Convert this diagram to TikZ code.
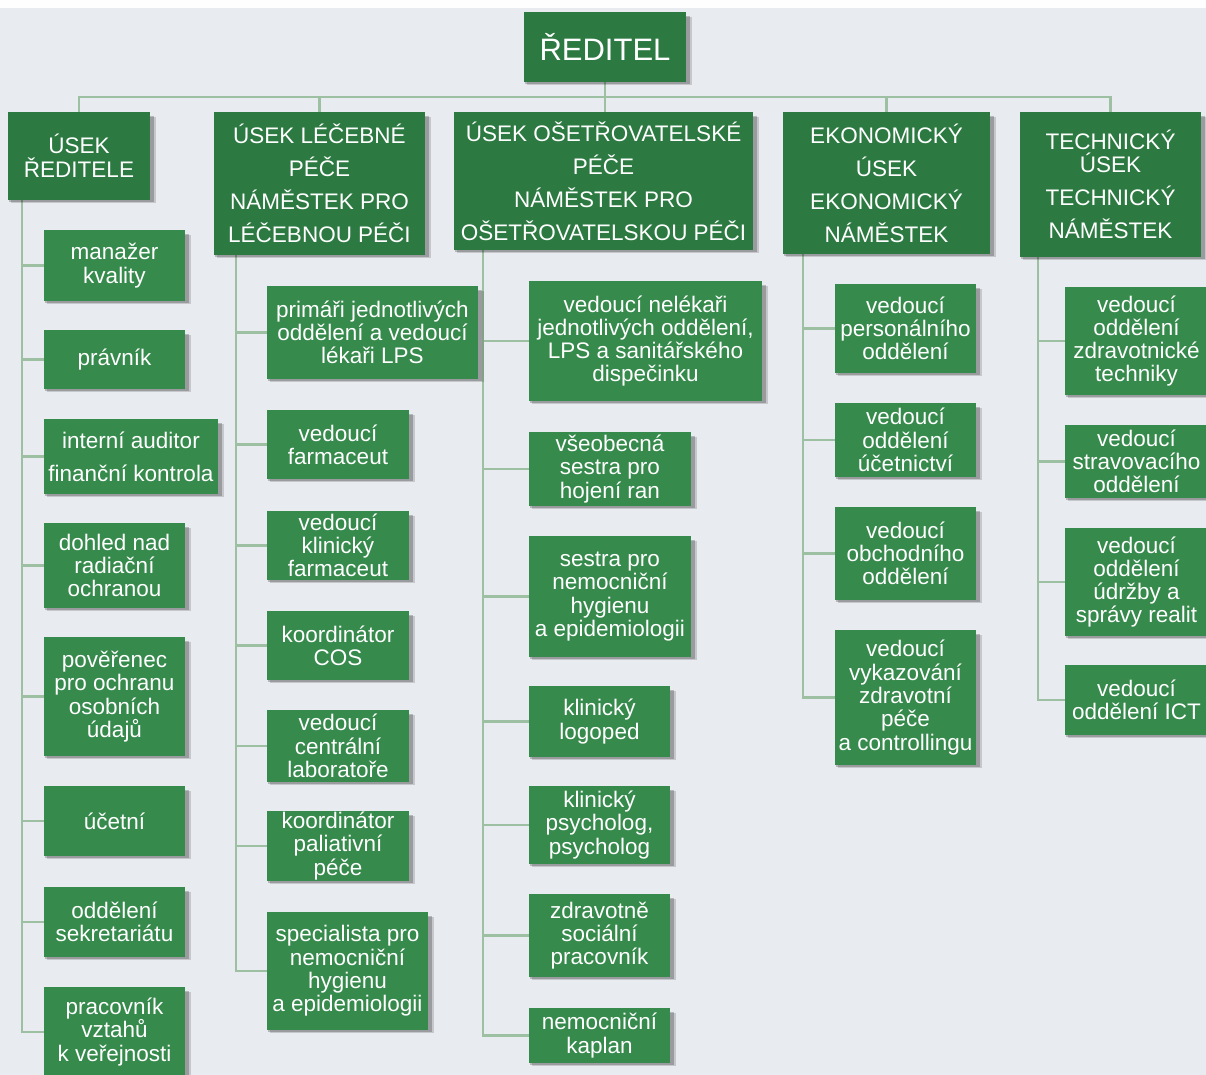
\documentclass[tikz,border=0pt]{standalone}
\usepackage{fontspec}
\setmainfont{Liberation Sans}
\definecolor{bgc}{HTML}{E8EBEF}
\definecolor{hdrgreen}{HTML}{2C7A41}
\definecolor{boxgreen}{HTML}{368A4C}
\definecolor{linec}{HTML}{9DBFA2}
\pgfdeclarelayer{back}
\pgfdeclarelayer{lines}
\pgfdeclarelayer{shade}
\pgfsetlayers{back,lines,shade,main}
\tikzset{
  basebox/.style={inner sep=0pt, align=center, text=white},
  rootbox/.style={basebox, fill=hdrgreen, font=\fontsize{31bp}{34bp}\selectfont},
  hdrbox/.style={basebox, fill=hdrgreen, font=\fontsize{22.5bp}{33bp}\selectfont},
  kidbox/.style={basebox, fill=boxgreen, font=\fontsize{22.5bp}{23.3bp}\selectfont},
  conn/.style={draw=linec, line width=2.5bp},
  shadowA/.style={fill=black, opacity=0.22},
  shadowB/.style={fill=black, opacity=0.15},
  wh/.style 2 args={minimum width=#1bp, minimum height=#2bp}
}
\begin{document}
\begin{tikzpicture}[x=1bp,y=-1bp]
\useasboundingbox (0,0) rectangle (1206,1075);
\clip (0,0) rectangle (1206,1075);
\begin{pgfonlayer}{back}
\fill[bgc] (0,0) rectangle (1206,1075);
\fill[white!97!bgc] (0,0) rectangle (1206,8);
\end{pgfonlayer}

% root
\node[rootbox, wh={162}{70}] (root) at (605,47) {ŘEDITEL};

% headers
\node[hdrbox, wh={142}{88}, font=\fontsize{22.5bp}{24bp}\selectfont] (h1) at (79,156) {ÚSEK\\ŘEDITELE};
\node[hdrbox, wh={211}{143}] (h2) at (319.5,183.5) {ÚSEK LÉČEBNÉ\\PÉČE\\NÁMĚSTEK PRO\\LÉČEBNOU PÉČI};
\node[hdrbox, wh={299}{138}] (h3) at (603.5,181) {ÚSEK OŠETŘOVATELSKÉ\\PÉČE\\NÁMĚSTEK PRO\\OŠETŘOVATELSKOU PÉČI};
\node[hdrbox, wh={207}{142}] (h4) at (886.5,183) {EKONOMICKÝ\\ÚSEK\\EKONOMICKÝ\\NÁMĚSTEK};
\node[hdrbox, wh={181}{145}] (h5) at (1110.5,184.5) {TECHNICKÝ\\[-10bp]ÚSEK\\TECHNICKÝ\\NÁMĚSTEK};

% column 1
\node[kidbox, wh={141}{71}] (c11) at (114.5,265.5) {manažer\\kvality};
\node[kidbox, wh={141}{59}] (c12) at (114.5,359.5) {právník};
\node[kidbox, wh={174}{75}, font=\fontsize{22.5bp}{33bp}\selectfont] (c13) at (131,456.5) {interní auditor\\finanční kontrola};
\node[kidbox, wh={141}{85}] (c14) at (114.5,565.5) {dohled nad\\radiační\\ochranou};
\node[kidbox, wh={141}{119}] (c15) at (114.5,696.5) {pověřenec\\pro ochranu\\osobních\\údajů};
\node[kidbox, wh={141}{70}] (c16) at (114.5,821) {účetní};
\node[kidbox, wh={141}{70}] (c17) at (114.5,922) {oddělení\\sekretariátu};
\node[kidbox, wh={141}{90}] (c18) at (114.5,1032) {pracovník\\vztahů\\k veřejnosti};

% column 2
\node[kidbox, wh={211}{93}] (c21) at (372.5,332.5) {primáři jednotlivých\\oddělení a vedoucí\\lékaři LPS};
\node[kidbox, wh={142}{69}] (c22) at (338,444.5) {vedoucí\\farmaceut};
\node[kidbox, wh={142}{69}] (c23) at (338,545.5) {vedoucí\\klinický\\farmaceut};
\node[kidbox, wh={142}{69}] (c24) at (338,645.5) {koordinátor\\COS};
\node[kidbox, wh={142}{72}] (c25) at (338,746) {vedoucí\\centrální\\laboratoře};
\node[kidbox, wh={142}{70}] (c26) at (338,846) {koordinátor\\paliativní\\péče};
\node[kidbox, wh={161}{118}] (c27) at (347.5,971) {specialista pro\\nemocniční\\hygienu\\a epidemiologii};

% column 3
\node[kidbox, wh={233}{120}] (c31) at (645.5,341) {vedoucí nelékaři\\jednotlivých oddělení,\\LPS a sanitářského\\dispečinku};
\node[kidbox, wh={162}{74}] (c32) at (610,469) {všeobecná\\sestra pro\\hojení ran};
\node[kidbox, wh={162}{121}] (c33) at (610,596.5) {sestra pro\\nemocniční\\hygienu\\a epidemiologii};
\node[kidbox, wh={141}{71}] (c34) at (599.5,721.5) {klinický\\logoped};
\node[kidbox, wh={141}{78}] (c35) at (599.5,825) {klinický\\psycholog,\\psycholog};
\node[kidbox, wh={141}{83}] (c36) at (599.5,935.5) {zdravotně\\sociální\\pracovník};
\node[kidbox, wh={141}{55}] (c37) at (599.5,1035.5) {nemocniční\\kaplan};

% column 4
\node[kidbox, wh={141}{89}] (c41) at (905.5,328.5) {vedoucí\\personálního\\oddělení};
\node[kidbox, wh={141}{74}] (c42) at (905.5,440) {vedoucí\\oddělení\\účetnictví};
\node[kidbox, wh={141}{93}] (c43) at (905.5,553.5) {vedoucí\\obchodního\\oddělení};
\node[kidbox, wh={141}{135}] (c44) at (905.5,697.5) {vedoucí\\vykazování\\zdravotní\\péče\\a controllingu};

% column 5
\node[kidbox, wh={143}{108}] (c51) at (1136.5,341) {vedoucí\\oddělení\\zdravotnické\\techniky};
\node[kidbox, wh={143}{73}] (c52) at (1136.5,461.5) {vedoucí\\stravovacího\\oddělení};
\node[kidbox, wh={143}{108}] (c53) at (1136.5,582) {vedoucí\\oddělení\\údržby a\\správy realit};
\node[kidbox, wh={143}{70}] (c54) at (1136.5,700) {vedoucí\\oddělení ICT};

% shadows
\begin{pgfonlayer}{shade}
\clip (0,0) rectangle (1206,1075);
\foreach \n in {root,h1,h2,h3,h4,h5,c11,c12,c13,c14,c15,c16,c17,c18,c21,c22,c23,c24,c25,c26,c27,c31,c32,c33,c34,c35,c36,c37,c41,c42,c43,c44,c51,c52,c53,c54}{
  \fill[shadowA] ([shift={(1.5,1.5)}]\n.south west) rectangle ([shift={(4,4)}]\n.north east);
  \fill[shadowB] ([shift={(3,3)}]\n.south west) rectangle ([shift={(5.5,5.5)}]\n.north east);
}
\end{pgfonlayer}

% connectors
\coordinate (bus) at (0,97);
\begin{pgfonlayer}{lines}
\clip (0,0) rectangle (1206,1075);
\draw[conn] (root.south) -- (root.south |- h3.north);
\draw[conn] (h1.north) -- (h1.north |- bus) -- (h5.north |- bus) -- (h5.north);
\draw[conn] (h2.north) -- (h2.north |- bus);
\draw[conn] (h4.north) -- (h4.north |- bus);
\foreach \c in {c11,c12,c13,c14,c15,c16,c17,c18}
  \draw[conn] ([xshift=14bp]h1.south west) |- (\c.west);
\foreach \c in {c21,c22,c23,c24,c25,c26,c27}
  \draw[conn] ([xshift=22bp]h2.south west) |- (\c.west);
\foreach \c in {c31,c32,c33,c34,c35,c36,c37}
  \draw[conn] ([xshift=29bp]h3.south west) |- (\c.west);
\foreach \c in {c41,c42,c43,c44}
  \draw[conn] ([xshift=20bp]h4.south west) |- (\c.west);
\foreach \c in {c51,c52,c53,c54}
  \draw[conn] ([xshift=18bp]h5.south west) |- (\c.west);
\end{pgfonlayer}
\end{tikzpicture}
\end{document}
